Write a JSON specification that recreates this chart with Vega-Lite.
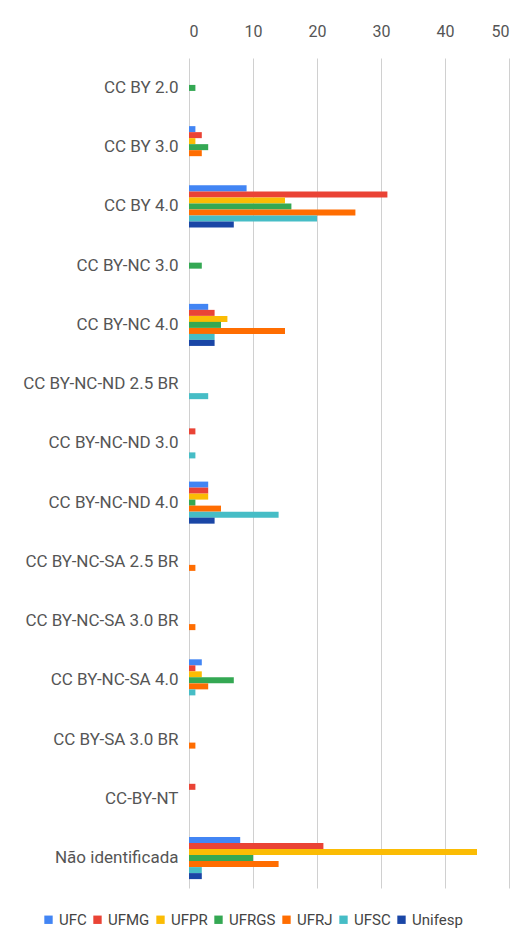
{
  "$schema": "https://vega.github.io/schema/vega-lite/v6.json",
  "autosize": {"type": "none"},
  "width": 320,
  "height": 830,
  "padding": {"left": 189, "top": 58, "right": 6, "bottom": 55},
  "background": "white",
  "config": {
    "font": "Roboto",
    "view": {"stroke": null},
    "axis": {"labelColor": "#555555", "labelFont": "Roboto"},
    "legend": {"labelFont": "Roboto"}
  },
  "data": {
    "values": [
      {"lic": "CC BY 2.0", "uni": "UFRGS", "n": 1},
      {"lic": "CC BY 3.0", "uni": "UFC", "n": 1},
      {"lic": "CC BY 3.0", "uni": "UFMG", "n": 2},
      {"lic": "CC BY 3.0", "uni": "UFPR", "n": 1},
      {"lic": "CC BY 3.0", "uni": "UFRGS", "n": 3},
      {"lic": "CC BY 3.0", "uni": "UFRJ", "n": 2},
      {"lic": "CC BY 4.0", "uni": "UFC", "n": 9},
      {"lic": "CC BY 4.0", "uni": "UFMG", "n": 31},
      {"lic": "CC BY 4.0", "uni": "UFPR", "n": 15},
      {"lic": "CC BY 4.0", "uni": "UFRGS", "n": 16},
      {"lic": "CC BY 4.0", "uni": "UFRJ", "n": 26},
      {"lic": "CC BY 4.0", "uni": "UFSC", "n": 20},
      {"lic": "CC BY 4.0", "uni": "Unifesp", "n": 7},
      {"lic": "CC BY-NC 3.0", "uni": "UFRGS", "n": 2},
      {"lic": "CC BY-NC 4.0", "uni": "UFC", "n": 3},
      {"lic": "CC BY-NC 4.0", "uni": "UFMG", "n": 4},
      {"lic": "CC BY-NC 4.0", "uni": "UFPR", "n": 6},
      {"lic": "CC BY-NC 4.0", "uni": "UFRGS", "n": 5},
      {"lic": "CC BY-NC 4.0", "uni": "UFRJ", "n": 15},
      {"lic": "CC BY-NC 4.0", "uni": "UFSC", "n": 4},
      {"lic": "CC BY-NC 4.0", "uni": "Unifesp", "n": 4},
      {"lic": "CC BY-NC-ND 2.5 BR", "uni": "UFSC", "n": 3},
      {"lic": "CC BY-NC-ND 3.0", "uni": "UFMG", "n": 1},
      {"lic": "CC BY-NC-ND 3.0", "uni": "UFSC", "n": 1},
      {"lic": "CC BY-NC-ND 4.0", "uni": "UFC", "n": 3},
      {"lic": "CC BY-NC-ND 4.0", "uni": "UFMG", "n": 3},
      {"lic": "CC BY-NC-ND 4.0", "uni": "UFPR", "n": 3},
      {"lic": "CC BY-NC-ND 4.0", "uni": "UFRGS", "n": 1},
      {"lic": "CC BY-NC-ND 4.0", "uni": "UFRJ", "n": 5},
      {"lic": "CC BY-NC-ND 4.0", "uni": "UFSC", "n": 14},
      {"lic": "CC BY-NC-ND 4.0", "uni": "Unifesp", "n": 4},
      {"lic": "CC BY-NC-SA 2.5 BR", "uni": "UFRJ", "n": 1},
      {"lic": "CC BY-NC-SA 3.0 BR", "uni": "UFRJ", "n": 1},
      {"lic": "CC BY-NC-SA 4.0", "uni": "UFC", "n": 2},
      {"lic": "CC BY-NC-SA 4.0", "uni": "UFMG", "n": 1},
      {"lic": "CC BY-NC-SA 4.0", "uni": "UFPR", "n": 2},
      {"lic": "CC BY-NC-SA 4.0", "uni": "UFRGS", "n": 7},
      {"lic": "CC BY-NC-SA 4.0", "uni": "UFRJ", "n": 3},
      {"lic": "CC BY-NC-SA 4.0", "uni": "UFSC", "n": 1},
      {"lic": "CC BY-SA 3.0 BR", "uni": "UFRJ", "n": 1},
      {"lic": "CC-BY-NT", "uni": "UFMG", "n": 1},
      {"lic": "Não identificada", "uni": "UFC", "n": 8},
      {"lic": "Não identificada", "uni": "UFMG", "n": 21},
      {"lic": "Não identificada", "uni": "UFPR", "n": 45},
      {"lic": "Não identificada", "uni": "UFRGS", "n": 10},
      {"lic": "Não identificada", "uni": "UFRJ", "n": 14},
      {"lic": "Não identificada", "uni": "UFSC", "n": 2},
      {"lic": "Não identificada", "uni": "Unifesp", "n": 2}
    ]
  },
  "mark": {"type": "bar"},
  "encoding": {
    "y": {
      "field": "lic",
      "type": "nominal",
      "sort": null,
      "scale": {"paddingInner": 0.29, "paddingOuter": 0.15},
      "axis": {
        "title": null,
        "ticks": false,
        "domain": false,
        "labelFontSize": 17,
        "labelPadding": 11,
        "labelColor": "#555555",
        "labelLimit": 300
      }
    },
    "yOffset": {
      "field": "uni",
      "type": "nominal",
      "sort": ["UFC", "UFMG", "UFPR", "UFRGS", "UFRJ", "UFSC", "Unifesp"],
      "scale": {"paddingInner": 0, "paddingOuter": 0}
    },
    "x": {
      "field": "n",
      "type": "quantitative",
      "scale": {"domain": [0, 50], "nice": false},
      "axis": {
        "orient": "top",
        "title": null,
        "values": [0, 10, 20, 30, 40, 50],
        "ticks": false,
        "domain": false,
        "labelFontSize": 16,
        "labelPadding": 19,
        "labelColor": "#555555",
        "gridColor": "#d0d0d0",
        "gridWidth": 1
      }
    },
    "color": {
      "field": "uni",
      "type": "nominal",
      "sort": ["UFC", "UFMG", "UFPR", "UFRGS", "UFRJ", "UFSC", "Unifesp"],
      "scale": {
        "domain": ["UFC", "UFMG", "UFPR", "UFRGS", "UFRJ", "UFSC", "Unifesp"],
        "range": ["#4285F4", "#EA4335", "#FBBC04", "#34A853", "#FF6D01", "#46BDC6", "#1A46A6"]
      },
      "legend": {
        "title": null,
        "orient": "none",
        "direction": "horizontal",
        "legendX": -148,
        "legendY": 854,
        "symbolType": "square",
        "symbolSize": 70,
        "symbolStrokeWidth": 0,
        "labelFontSize": 15,
        "labelColor": "#444444",
        "labelOffset": 3,
        "columnPadding": 3
      }
    }
  }
}
